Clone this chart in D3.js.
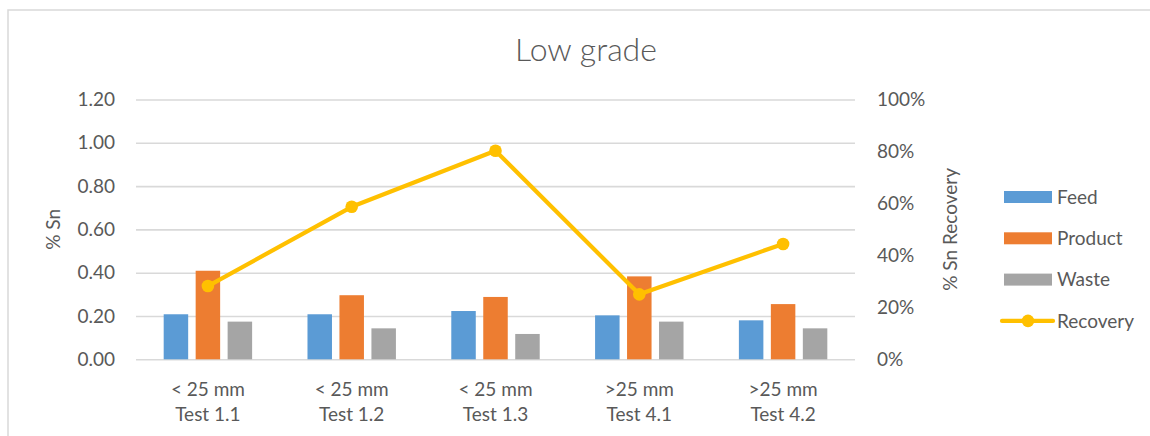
<!DOCTYPE html>
<html>
<head>
<meta charset="utf-8">
<script src="https://cdn.jsdelivr.net/npm/d3@7"></script>
<style>
  html, body { margin: 0; padding: 0; background: #fff; }
  svg { display: block; }
  text { font-family: Lato, "Open Sans", sans-serif; fill: #595959; }
</style>
</head>
<body>
<svg id="chart" width="1150" height="436"></svg>
<script>
// Samples: size class and test id
const sizeClasses = ["< 25 mm", "< 25 mm", "< 25 mm", ">25 mm", ">25 mm"];
const tests = ["Test 1.1", "Test 1.2", "Test 1.3", "Test 4.1", "Test 4.2"];

// % Sn assays
const feed    = [0.208, 0.208, 0.223, 0.203, 0.180];
const product = [0.409, 0.296, 0.288, 0.383, 0.255];
const waste   = [0.174, 0.143, 0.117, 0.174, 0.143];

// Sn recovery (fraction)
const recovery = [0.282, 0.587, 0.803, 0.250, 0.444];

const seriesNames = ["Feed", "Product", "Waste"];
const seriesColors = ["#5B9BD5", "#ED7D31", "#A5A5A5"];
const lineColor = "#FFC000";

const leftTicks = [0, 0.2, 0.4, 0.6, 0.8, 1.0, 1.2];
const rightTicks = [0, 0.2, 0.4, 0.6, 0.8, 1.0];

const svg = d3.select("#chart");

// chart area outline
svg.append("rect")
  .attr("x", 8).attr("y", 10)
  .attr("width", 1160).attr("height", 440)
  .attr("fill", "none").attr("stroke", "#D9D9D9").attr("stroke-width", 1.5);

const plot = { left: 136, right: 855, top: 99.5, bottom: 359.3 };

const x0 = d3.scaleBand()
  .domain(d3.range(tests.length))
  .range([plot.left, plot.right])
  .paddingInner(0.333).paddingOuter(0.1665);

const x1 = d3.scaleBand()
  .domain(seriesNames)
  .range([0, x0.bandwidth()])
  .paddingInner(0.234).paddingOuter(0.117);

const yL = d3.scaleLinear().domain([0, 1.2]).range([plot.bottom, plot.top]);
const yR = d3.scaleLinear().domain([0, 1.0]).range([plot.bottom, plot.top]);

// gridlines
svg.append("g")
  .attr("transform", `translate(${plot.left},0)`)
  .call(d3.axisLeft(yL).tickValues(leftTicks).tickSize(-(plot.right - plot.left)).tickFormat(""))
  .call(g => g.select(".domain").remove())
  .call(g => g.selectAll("line").attr("stroke", "#D9D9D9").attr("stroke-width", 1.6));

// left axis labels
svg.append("g")
  .attr("transform", `translate(${plot.left - 21},0)`)
  .call(d3.axisLeft(yL).tickValues(leftTicks).tickSize(0).tickPadding(0).tickFormat(d3.format(".2f")))
  .call(g => g.select(".domain").remove())
  .call(g => g.selectAll("text").attr("font-size", 19).attr("fill", "#595959")
      .style("font-family", "Lato, sans-serif"));

// right axis labels
svg.append("g")
  .attr("transform", `translate(${plot.right + 22},0)`)
  .call(d3.axisRight(yR).tickValues(rightTicks).tickSize(0).tickPadding(0).tickFormat(d3.format(".0%")))
  .call(g => g.select(".domain").remove())
  .call(g => g.selectAll("text").attr("font-size", 19).attr("fill", "#595959")
      .style("font-family", "Lato, sans-serif"));

// category labels
const catG = svg.append("g");
tests.forEach((t, i) => {
  const cx = x0(i) + x0.bandwidth() / 2;
  const txt = catG.append("text").attr("text-anchor", "middle").attr("font-size", 19);
  txt.append("tspan").attr("x", cx).attr("y", 396).text(sizeClasses[i]);
  txt.append("tspan").attr("x", cx).attr("y", 421).text(t);
});

// bars
const seriesData = [feed, product, waste];
seriesData.forEach((vals, s) => {
  svg.append("g").selectAll("rect")
    .data(vals)
    .join("rect")
    .attr("x", (d, i) => x0(i) + x1(seriesNames[s]))
    .attr("width", x1.bandwidth())
    .attr("y", d => yL(d))
    .attr("height", d => yL(0) - yL(d))
    .attr("fill", seriesColors[s]);
});

// recovery line
const cxOf = i => x0(i) + x0.bandwidth() / 2;
svg.append("path")
  .datum(recovery)
  .attr("fill", "none")
  .attr("stroke", lineColor)
  .attr("stroke-width", 4.2)
  .attr("stroke-linejoin", "round")
  .attr("d", d3.line().x((d, i) => cxOf(i)).y(d => yR(d)));

svg.append("g").selectAll("circle")
  .data(recovery)
  .join("circle")
  .attr("cx", (d, i) => cxOf(i))
  .attr("cy", d => yR(d))
  .attr("r", 6.3)
  .attr("fill", lineColor);

// axis titles
svg.append("text")
  .attr("transform", `translate(60,${(plot.top + plot.bottom) / 2}) rotate(-90)`)
  .attr("text-anchor", "middle")
  .attr("font-size", 19)
  .text("% Sn");

svg.append("text")
  .attr("transform", `translate(957,${(plot.top + plot.bottom) / 2}) rotate(-90)`)
  .attr("text-anchor", "middle")
  .attr("font-size", 19)
  .text("% Sn Recovery");

// chart title
svg.append("text")
  .attr("x", 586).attr("y", 61)
  .attr("text-anchor", "middle")
  .attr("font-size", 32)
  .attr("font-weight", 300)
  .text("Low grade");

// legend
const legend = svg.append("g");
const legY0 = 197, legStep = 41.3;
seriesNames.forEach((name, s) => {
  const y = legY0 + s * legStep;
  legend.append("rect")
    .attr("x", 1004).attr("y", y - 6)
    .attr("width", 48).attr("height", 12)
    .attr("fill", seriesColors[s]);
  legend.append("text")
    .attr("x", 1057).attr("y", y).attr("dy", "0.35em")
    .attr("font-size", 19).text(name);
});
{
  const y = legY0 + 3 * legStep;
  legend.append("line")
    .attr("x1", 1002).attr("x2", 1053).attr("y1", y).attr("y2", y)
    .attr("stroke", lineColor).attr("stroke-width", 4.2).attr("stroke-linecap", "round");
  legend.append("circle").attr("cx", 1028).attr("cy", y).attr("r", 6.3).attr("fill", lineColor);
  legend.append("text")
    .attr("x", 1057).attr("y", y).attr("dy", "0.35em")
    .attr("font-size", 19).text("Recovery");
}
</script>
</body>
</html>
